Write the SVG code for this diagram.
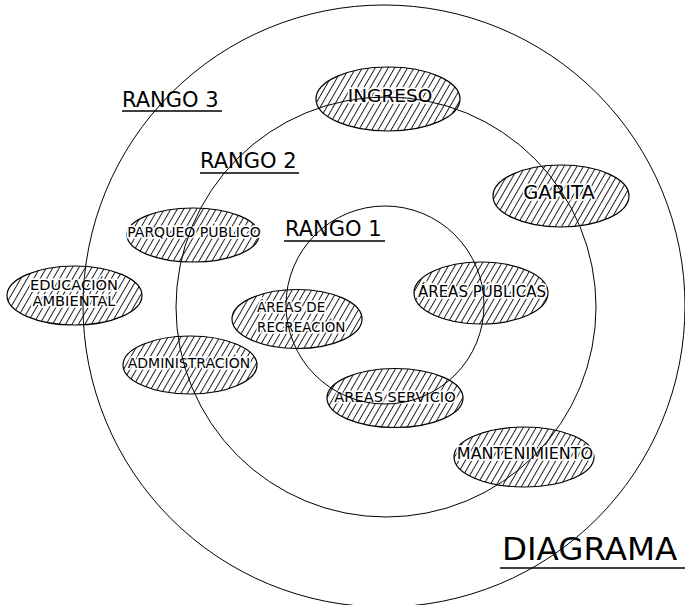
<svg xmlns="http://www.w3.org/2000/svg" width="685" height="605" viewBox="0 0 685 605">
<defs>
<pattern id="hatch" patternUnits="userSpaceOnUse" width="5.6" height="10" patternTransform="rotate(30)">
<line x1="0.5" y1="0" x2="0.5" y2="10" stroke="#000" stroke-width="0.9"/>
</pattern>
</defs>
<style>
.node ellipse{fill:url(#hatch);stroke:#000;stroke-width:1.2}
.lbl{font-family:"DejaVu Sans",Verdana,sans-serif;fill:#000;text-anchor:middle;stroke:#fff;stroke-width:3.5;paint-order:stroke;stroke-linejoin:round}
.ring{fill:none;stroke:#000;stroke-width:1}
.title{font-family:"DejaVu Sans",Verdana,sans-serif;fill:#000}
.ul{stroke:#000;stroke-width:1.5}
</style>
<rect width="685" height="605" fill="#fff"/>
<g id="ingreso" class="node"><ellipse cx="388" cy="99" rx="72" ry="32"/><text class="lbl" x="390" y="102" font-size="18.5">INGRESO</text></g>
<g id="garita" class="node"><ellipse cx="561" cy="196" rx="68" ry="31"/><text class="lbl" x="559" y="199" font-size="19.5">GARITA</text></g>
<g id="parqueo" class="node"><ellipse cx="193" cy="235" rx="66" ry="27"/><text class="lbl" x="194" y="237" font-size="14">PARQUEO PÚBLICO</text></g>
<g id="educacion" class="node"><ellipse cx="74.5" cy="295.5" rx="67.5" ry="29.5"/><text class="lbl" x="74" y="290" font-size="14.6">EDUCACIÓN</text><text class="lbl" x="74" y="306" font-size="14.6">AMBIENTAL</text></g>
<g id="recreacion" class="node"><ellipse cx="297" cy="319" rx="65" ry="29.5"/><text class="lbl" x="257" y="312" font-size="13.5" style="text-anchor:start">ÁREAS DE</text><text class="lbl" x="257" y="332" font-size="13.5" style="text-anchor:start">RECREACIÓN</text></g>
<g id="areas-publicas" class="node"><ellipse cx="481" cy="293" rx="67" ry="31"/><text class="lbl" x="482" y="297" font-size="15">ÁREAS PÚBLICAS</text></g>
<g id="administracion" class="node"><ellipse cx="190" cy="365" rx="67" ry="29"/><text class="lbl" x="189" y="368" font-size="14">ADMINISTRACIÓN</text></g>
<g id="areas-servicio" class="node"><ellipse cx="395" cy="398" rx="68" ry="29.5"/><text class="lbl" x="395" y="402" font-size="14.6">AREAS SERVICIO</text></g>
<g id="mantenimiento" class="node"><ellipse cx="524" cy="457" rx="70" ry="30"/><text class="lbl" x="525" y="459" font-size="16">MANTENIMIENTO</text></g>
<g id="rings">
<circle class="ring" cx="384" cy="306" r="301"/>
<circle class="ring" cx="386" cy="307" r="210"/>
<circle class="ring" cx="385" cy="305" r="99"/>
</g>
<g id="titles">
<text class="title" x="122" y="107" font-size="21">RANGO 3</text><line class="ul" x1="122" y1="111" x2="222" y2="111"/>
<text class="title" x="200" y="168" font-size="21">RANGO 2</text><line class="ul" x1="200" y1="173" x2="299" y2="173"/>
<text class="title" x="285" y="236" font-size="21">RANGO 1</text><line class="ul" x1="284" y1="241" x2="385" y2="241"/>
<text class="title" x="502" y="560" font-size="32.5">DIAGRAMA</text><line class="ul" x1="500" y1="568" x2="685" y2="568"/>
</g>
</svg>
